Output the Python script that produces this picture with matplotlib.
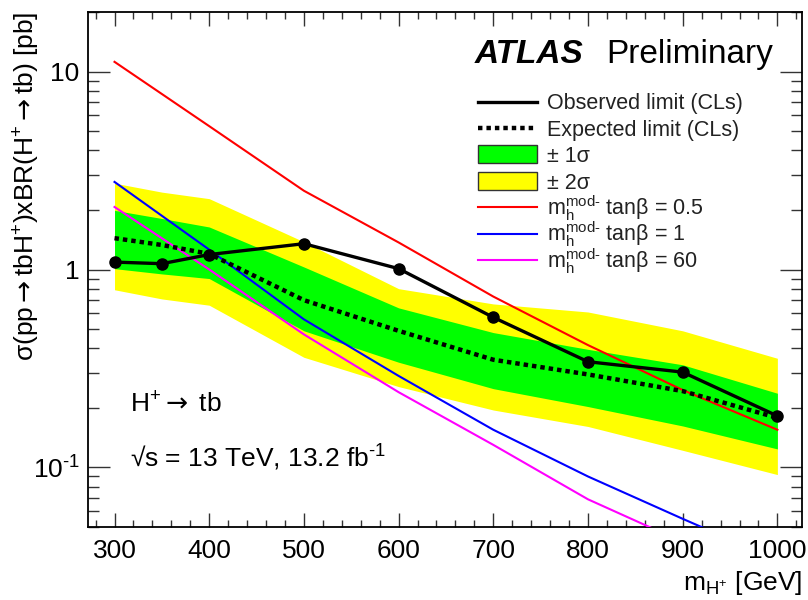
#!/usr/bin/env python3

import matplotlib

matplotlib.use("Agg")

import matplotlib.pyplot as plt
from matplotlib.lines import Line2D
from matplotlib.patches import Rectangle
from matplotlib.ticker import FixedFormatter, FixedLocator, MultipleLocator, NullFormatter

# charged Higgs mass points [GeV]
mass = [300, 350, 400, 500, 600, 700, 800, 900, 1000]
observed = [1.09, 1.07, 1.19, 1.35, 1.01, 0.573, 0.342, 0.303, 0.182]
expected = [1.44, 1.33, 1.20, 0.70, 0.49, 0.35, 0.295, 0.243, 0.178]
band1_lo = [1.01, 0.95, 0.90, 0.49, 0.34, 0.25, 0.203, 0.162, 0.124]
band1_hi = [1.99, 1.81, 1.64, 1.03, 0.64, 0.48, 0.395, 0.33, 0.237]
band2_lo = [0.79, 0.71, 0.66, 0.36, 0.256, 0.195, 0.161, 0.122, 0.092]
band2_hi = [2.73, 2.46, 2.28, 1.38, 0.80, 0.67, 0.61, 0.49, 0.356]

# mh-mod- benchmark predictions
theory_mass = [300, 400, 500, 600, 700, 800, 900, 1000]
mhmod_tanb05 = [11.2, 5.3, 2.5, 1.37, 0.73, 0.415, 0.246, 0.155]
mhmod_tanb1 = [2.77, 1.26, 0.56, 0.29, 0.155, 0.09, 0.055, 0.034]
mhmod_tanb60 = [2.07, 1.0, 0.47, 0.24, 0.13, 0.069, 0.042, 0.026]

x_ticks = [300, 400, 500, 600, 700, 800, 900, 1000]
y_ticks = [0.1, 1, 10]
y_tick_labels = [r"10$^{\mathregular{\text{-}1}}$", "1", "10"]

plt.rcParams["font.family"] = ["Liberation Sans", "DejaVu Sans"]
plt.rcParams["mathtext.fontset"] = "custom"
plt.rcParams["mathtext.rm"] = "Liberation Sans"
plt.rcParams["mathtext.it"] = "Liberation Sans:italic"
plt.rcParams["mathtext.bf"] = "Liberation Sans:bold"
plt.rcParams["mathtext.sf"] = "DejaVu Sans"
plt.rcParams["mathtext.fallback"] = "stixsans"

MHMOD = r"m$_{\mathregular{h}}^{\mathregular{mod}\text{-}}$"
HPLUS = r"H$^{\mathregular{+}}$"
ARROW = r"$\mathsf{\rightarrow}$"


def main() -> None:
    fig = plt.figure(figsize=(8.08, 6.0), dpi=100)
    ax = fig.add_axes([88 / 808, 73 / 600, 714 / 808, 515 / 600])

    ax.fill_between(mass, band2_lo, band2_hi, color="#ffff00", lw=0, zorder=1)
    ax.fill_between(mass, band1_lo, band1_hi, color="#00ff00", lw=0, zorder=2)

    ax.plot(theory_mass, mhmod_tanb05, color="#ff0000", lw=1.5, zorder=3)
    ax.plot(theory_mass, mhmod_tanb1, color="#0000ff", lw=1.5, zorder=3)
    ax.plot(theory_mass, mhmod_tanb60, color="#ff00ff", lw=1.5, zorder=3)

    ax.plot(mass, expected, color="black", lw=3.2, dashes=(1, 0.9),
            dash_capstyle="butt", zorder=4)
    ax.plot(mass, observed, color="black", lw=2.4, marker="o", ms=8, zorder=5)

    ax.set_yscale("log")
    ax.set_xlim(272, 1026)
    ax.set_ylim(0.05, 20)

    ax.xaxis.set_major_locator(FixedLocator(x_ticks))
    ax.xaxis.set_minor_locator(MultipleLocator(20))
    ax.yaxis.set_major_locator(FixedLocator(y_ticks))
    ax.yaxis.set_major_formatter(FixedFormatter(y_tick_labels))
    ax.yaxis.set_minor_formatter(NullFormatter())

    ax.tick_params(which="both", direction="in", top=True, right=True,
                   labelsize=19, width=1, color="#333333")
    ax.tick_params(axis="x", which="major", length=10, pad=9)
    ax.tick_params(axis="x", which="minor", length=5)
    ax.tick_params(axis="y", which="major", length=16, pad=6)
    ax.tick_params(axis="y", which="minor", length=8)
    for spine in ax.spines.values():
        spine.set_linewidth(1.3)

    ax.set_xlabel(r"m$_{\mathregular{H^{+}}}$ [GeV]", fontsize=19, loc="right")
    ax.set_ylabel("σ(pp" + ARROW + "tb" + HPLUS + ")xBR(" + HPLUS + ARROW + "tb) [pb]",
                  fontsize=19, loc="top")
    ax.yaxis.set_label_coords(-0.064, 1.0)

    ax.text(0.542, 0.917, "ATLAS", transform=ax.transAxes, fontsize=24,
            fontweight="bold", fontstyle="italic", va="center")
    ax.text(0.726, 0.917, "Preliminary", transform=ax.transAxes, fontsize=24,
            va="center")

    ax.text(0.059, 0.223, HPLUS + ARROW + " tb", transform=ax.transAxes, fontsize=19)
    ax.text(0.059, 0.117, r"√s = 13 TeV, 13.2 fb$^{\mathregular{\text{-}1}}$",
            transform=ax.transAxes, fontsize=19)

    # legend, drawn as key + text rows in axes fraction
    entries = [
        ("line", dict(color="black", lw=2.4), "Observed limit (CLs)"),
        ("line", dict(color="black", lw=3.2, dashes=(1, 0.9), dash_capstyle="butt"),
         "Expected limit (CLs)"),
        ("box", dict(facecolor="#00ff00"), "± 1σ"),
        ("box", dict(facecolor="#ffff00"), "± 2σ"),
        ("line", dict(color="#ff0000", lw=1.5), MHMOD + " tanβ = 0.5"),
        ("line", dict(color="#0000ff", lw=1.5), MHMOD + " tanβ = 1"),
        ("line", dict(color="#ff00ff", lw=1.5), MHMOD + " tanβ = 60"),
    ]
    key_x0, key_x1, text_x = 0.546, 0.629, 0.643
    row0, row_step = 0.826, 0.0513
    for i, (kind, style, label) in enumerate(entries):
        yc = row0 - i * row_step
        if kind == "line":
            ax.add_line(Line2D([key_x0, key_x1], [yc, yc], transform=ax.transAxes,
                               zorder=6, **style))
        else:
            ax.add_patch(Rectangle((key_x0, yc - 0.0175), key_x1 - key_x0, 0.035,
                                   transform=ax.transAxes, edgecolor="#333333",
                                   lw=1, zorder=6, **style))
        ax.text(text_x, yc - 0.0150, label, transform=ax.transAxes, fontsize=15.5,
                va="baseline", color="#222222", zorder=6)

    fig.savefig("out.png", dpi=100)
    plt.close(fig)


if __name__ == "__main__":
    main()
